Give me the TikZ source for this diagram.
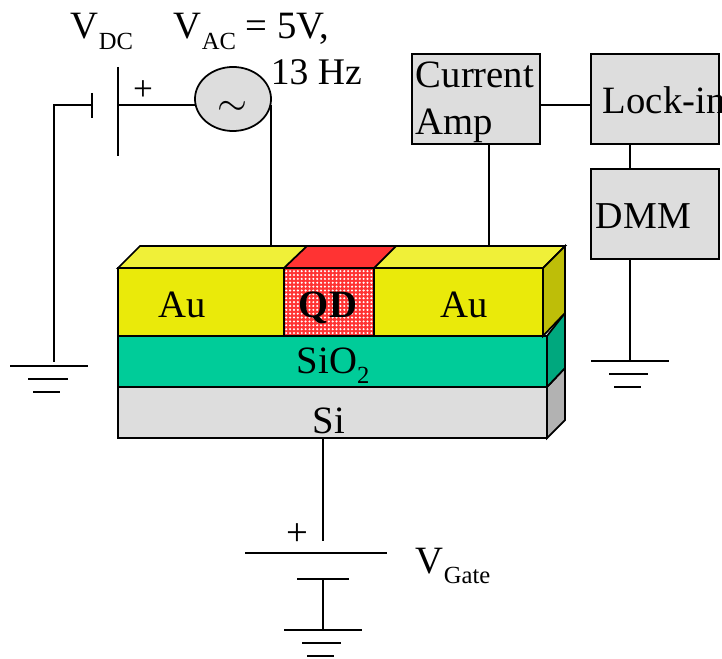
\documentclass[tikz,border=0pt]{standalone}
\usepackage{fontspec}
\setmainfont{Liberation Serif}
\usetikzlibrary{patterns.meta,shapes.geometric}
\definecolor{auface}{RGB}{234,234,10}
\definecolor{autop}{RGB}{240,240,56}
\definecolor{auside}{RGB}{190,190,8}
\definecolor{oxface}{RGB}{0,204,153}
\definecolor{oxside}{RGB}{0,168,126}
\definecolor{siface}{RGB}{221,221,221}
\definecolor{siside}{RGB}{178,178,178}
\definecolor{qdred}{RGB}{255,51,51}
\newcommand{\lowsub}[1]{\raisebox{-3pt}{\fontsize{7}{8}\selectfont #1}}
\tikzset{
  lbl/.style={inner sep=0pt,font=\fontsize{11}{13.4}\selectfont},
  instr/.style={draw,fill=siface,minimum width=1.28cm,minimum height=.9cm,inner sep=0pt},
}
\begin{document}
\begin{tikzpicture}[x=.01cm,y=-.01cm,line width=.5pt]
\useasboundingbox (0,0) rectangle (722,658);
% stack
\draw[fill=siface](118,387) rectangle (547,438);
\draw[fill=siside](547,387)--(565,368)--(565,420)--(547,438)--cycle;
\draw[fill=oxface](118,336) rectangle (547,387);
\draw[fill=oxside](547,336)--(565,313)--(565,368)--(547,387)--cycle;
\draw[fill=auface](118,268) rectangle (543,336);
\draw[fill=autop](118,268)--(140,246)--(565,246)--(543,268)--cycle;
\draw[fill=auside](543,268)--(565,246)--(565,313)--(543,336)--cycle;
\draw[fill=qdred](284,268)--(307,246)--(396,246)--(374,268)--cycle;
\fill[qdred](284,268) rectangle (374,336);
\fill[pattern={Dots[distance=1.1pt,radius=.33pt]},pattern color=white](284,268) rectangle (374,336);
\draw(284,268) rectangle (374,336);
\node[lbl,anchor=base] (auleft) at (182.5,317){Au};
\node[lbl,anchor=base] (auright) at (464.5,317){Au};
\node[lbl,anchor=base] (qd) at (328,317){\textbf{QD}};
\node[lbl,anchor=base west] (oxide) at (296,373){SiO\lowsub{2}};
\node[lbl,anchor=base] (si) at (329,433){Si};
% instruments
\node[instr] (amp) at (476,99){};
\node[instr] (lockin) at (655,99){};
\node[instr] (dmm) at (655,214){};
\node[lbl,align=left,anchor=north west] (amptext) at (415,61){Current\\Amp};
\node[lbl,anchor=base west] (locktext) at (602,114){Lock-in};
\node[lbl,anchor=base west,font=\fontsize{10.8}{13}\selectfont] (dmmtext) at (595,228.5){DMM};
\coordinate (ampright) at (540,105);
\coordinate (lockleft) at (591,105);
\draw(ampright)--(lockleft);
\coordinate (lockdown) at (630,144);
\coordinate (dmmup) at (630,169);
\draw(lockdown)--(dmmup);
\coordinate (ampdown) at (489,246);
\draw(amp.south -| ampdown)--(ampdown);
% dmm ground
\coordinate (gndr) at (630,361);
\draw(dmm.south -| gndr)--(gndr);
\draw(591,361)--(669,361) (609,374)--(648,374) (614,387)--(641,387);
% bias side
\node[draw,fill=siface,ellipse,minimum width=.76cm,minimum height=.64cm,inner sep=0pt] (source) at (233,99){};
\node[lbl] (tilde) at (232,108){$\sim$};
\coordinate (shortplate) at (92,105);
\coordinate (longplate) at (118,105);
\coordinate (gndl) at (54,362);
\coordinate (sourceout) at (271,105);
\coordinate (sourcein) at (195,105);
\draw(92,93)--(92,118);
\draw(118,67)--(118,156);
\draw(shortplate)--(54,105)--(gndl);
\draw(longplate)--(sourcein);
\draw(sourceout)--(271,246);
\draw(10,366)--(88,366) (28,379)--(68,379) (33,392)--(60,392);
\node[lbl,font=\fontsize{10}{10}\selectfont] (plusdc) at (143,91){+};
\node[lbl,anchor=base west] (vdc) at (70,39){V\lowsub{DC}};
\node[lbl,anchor=base west] (vac) at (173,39){V\lowsub{AC} = 5V,};
\node[lbl,anchor=base west,font=\fontsize{10.7}{13}\selectfont] (freq) at (270,85){13 Hz};
% gate
\coordinate (gatetop) at (323,541);
\coordinate (gatemid) at (323,579);
\coordinate (gatebot) at (323,630);
\draw(323,438)--(gatetop);
\draw(245,553)--(387,553);
\draw(297,579)--(349,579);
\draw(gatemid)--(gatebot);
\draw(284,630)--(362,630) (302,643)--(341,643) (307,656)--(334,656);
\node[lbl,font=\fontsize{11}{11}\selectfont] (plusgate) at (297,535){+};
\node[lbl,anchor=base west] (vgate) at (415,573){V\lowsub{Gate}};
\end{tikzpicture}
\end{document}
